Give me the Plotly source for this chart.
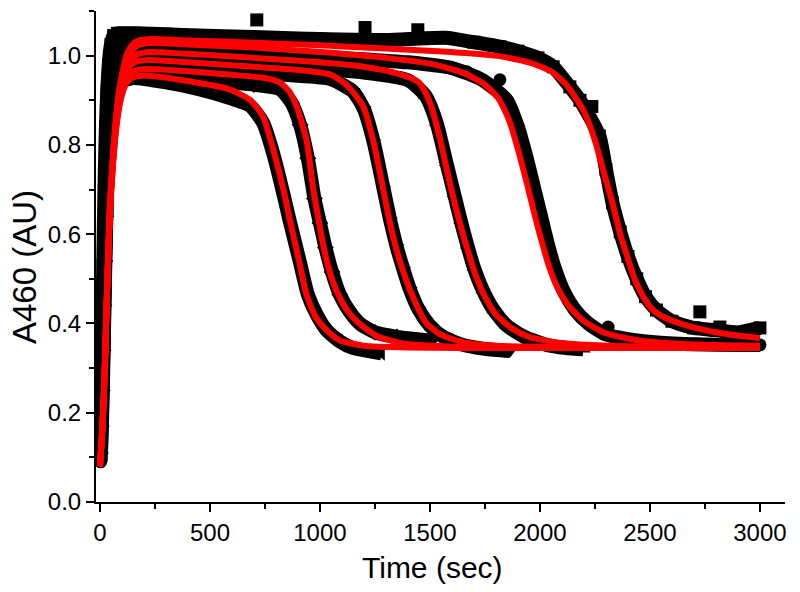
import plotly.graph_objects as go

# ---------------- fitted curves (red) ----------------
fit1_t = [0, 8, 16, 24, 32, 45, 60, 75, 90, 105, 120, 140, 170, 220, 400, 700, 1000, 1300, 1600, 1800, 1950, 2050, 2120, 2200, 2250, 2295, 2335, 2365, 2400, 2430, 2470, 2510, 2560, 2650, 2750, 2880, 3000]
fit1_v = [0.08, 0.14, 0.22, 0.33, 0.47, 0.66, 0.78, 0.87, 0.93, 0.97, 1.00, 1.02, 1.033, 1.037, 1.034, 1.029, 1.023, 1.016, 1.008, 1.000, 0.985, 0.965, 0.935, 0.875, 0.81, 0.73, 0.66, 0.60, 0.545, 0.50, 0.46, 0.432, 0.415, 0.398, 0.385, 0.374, 0.367]

fit2_t = [0, 8, 16, 24, 32, 45, 60, 75, 90, 105, 120, 140, 170, 220, 400, 700, 1000, 1300, 1500, 1650, 1750, 1810, 1860, 1900, 1940, 1970, 2000, 2040, 2080, 2130, 2200, 2300, 2450, 2650, 2850, 3000]
fit2_v = [0.08, 0.14, 0.22, 0.33, 0.47, 0.66, 0.78, 0.87, 0.93, 0.965, 0.99, 1.008, 1.022, 1.028, 1.025, 1.018, 1.008, 0.995, 0.982, 0.962, 0.935, 0.905, 0.855, 0.79, 0.715, 0.655, 0.598, 0.53, 0.48, 0.44, 0.405, 0.378, 0.362, 0.354, 0.351, 0.35]

fit3_t = [0, 8, 16, 24, 32, 45, 60, 75, 90, 105, 120, 140, 170, 220, 400, 700, 1000, 1200, 1350, 1450, 1500, 1545, 1590, 1620, 1650, 1680, 1710, 1750, 1800, 1870, 1950, 2100, 2300, 2600, 3000]
fit3_v = [0.08, 0.14, 0.22, 0.33, 0.47, 0.66, 0.78, 0.865, 0.92, 0.955, 0.978, 0.993, 1.003, 1.008, 1.004, 0.995, 0.985, 0.975, 0.96, 0.94, 0.895, 0.815, 0.715, 0.655, 0.60, 0.55, 0.505, 0.46, 0.42, 0.39, 0.37, 0.356, 0.35, 0.348, 0.347]

fit4_t = [0, 8, 16, 24, 32, 45, 60, 75, 90, 105, 120, 140, 170, 220, 400, 700, 900, 1045, 1120, 1197, 1242, 1288, 1310, 1330, 1348, 1380, 1409, 1450, 1485, 1550, 1650, 1800, 2000, 2400, 3000]
fit4_v = [0.08, 0.14, 0.22, 0.33, 0.47, 0.65, 0.77, 0.855, 0.91, 0.945, 0.965, 0.979, 0.987, 0.99, 0.985, 0.975, 0.968, 0.958, 0.935, 0.886, 0.81, 0.70, 0.645, 0.60, 0.565, 0.515, 0.475, 0.43, 0.40, 0.375, 0.358, 0.35, 0.348, 0.346, 0.346]

fit5_t = [0, 8, 16, 24, 32, 45, 60, 75, 90, 105, 120, 140, 170, 220, 400, 600, 750, 818, 860, 894, 939, 970, 991, 1015, 1045, 1076, 1120, 1167, 1258, 1377, 1600, 2000, 3000]
fit5_v = [0.08, 0.14, 0.22, 0.33, 0.47, 0.65, 0.765, 0.85, 0.90, 0.935, 0.952, 0.962, 0.968, 0.97, 0.965, 0.957, 0.95, 0.94, 0.92, 0.886, 0.81, 0.70, 0.64, 0.575, 0.515, 0.472, 0.432, 0.405, 0.372, 0.355, 0.348, 0.346, 0.345]

fit6_t = [0, 8, 16, 24, 32, 45, 60, 75, 90, 105, 120, 140, 170, 220, 400, 591, 682, 741, 788, 834, 860, 880, 905, 939, 980, 1030, 1091, 1200, 1400, 1800, 3000]
fit6_v = [0.08, 0.14, 0.22, 0.33, 0.47, 0.645, 0.76, 0.84, 0.89, 0.92, 0.938, 0.948, 0.954, 0.955, 0.943, 0.924, 0.901, 0.864, 0.789, 0.70, 0.64, 0.595, 0.54, 0.465, 0.415, 0.385, 0.362, 0.35, 0.346, 0.345, 0.345]

# ---------------- measured data (black) ----------------
d1_t = [0, 3, 6, 9, 12, 15, 18, 22, 27, 33, 40, 50, 62, 80, 110, 160, 300, 450, 600, 800, 1000, 1300, 1568, 1700, 1818, 1900, 1991, 2060, 2136, 2182, 2270, 2300, 2330, 2365, 2400, 2440, 2480, 2530, 2600, 2700, 2800, 2900, 3000]
d1_v = [0.10, 0.16, 0.24, 0.33, 0.43, 0.53, 0.63, 0.74, 0.84, 0.92, 0.98, 1.025, 1.045, 1.05, 1.05, 1.05, 1.048, 1.045, 1.043, 1.04, 1.037, 1.035, 1.04, 1.03, 1.02, 1.01, 0.995, 0.975, 0.93, 0.90, 0.82, 0.745, 0.67, 0.605, 0.55, 0.50, 0.46, 0.43, 0.405, 0.39, 0.385, 0.38, 0.39]
d1_out_t = [713, 1205, 1445, 2236, 2727, 2818]
d1_out_v = [1.08, 1.063, 1.058, 0.886, 0.426, 0.392]

d2_t = [3, 7, 11, 15, 19, 23, 27, 32, 38, 46, 58, 75, 100, 150, 300, 500, 800, 1100, 1400, 1600, 1740, 1850, 1900, 1940, 1980, 2010, 2040, 2070, 2110, 2160, 2220, 2300, 2400, 2550, 2750, 3000]
d2_v = [0.09, 0.14, 0.21, 0.30, 0.40, 0.50, 0.60, 0.71, 0.81, 0.90, 0.96, 1.005, 1.02, 1.022, 1.02, 1.015, 1.005, 0.995, 0.985, 0.972, 0.945, 0.90, 0.84, 0.77, 0.69, 0.63, 0.57, 0.52, 0.47, 0.43, 0.40, 0.375, 0.365, 0.357, 0.353, 0.352]
d2_out_t = [1667, 1818, 2310]
d2_out_v = [0.964, 0.946, 0.392]

d3_t = [1, 5, 9, 13, 17, 21, 25, 30, 36, 44, 56, 72, 95, 150, 300, 600, 900, 1200, 1400, 1480, 1530, 1575, 1610, 1640, 1670, 1700, 1740, 1790, 1850, 1930, 2030, 2120, 2197]
d3_v = [0.10, 0.16, 0.24, 0.33, 0.43, 0.53, 0.63, 0.73, 0.82, 0.89, 0.94, 0.975, 0.99, 0.995, 0.993, 0.985, 0.975, 0.962, 0.945, 0.91, 0.85, 0.76, 0.69, 0.63, 0.575, 0.525, 0.475, 0.43, 0.395, 0.37, 0.352, 0.345, 0.342]

d4_t = [4, 8, 12, 16, 20, 24, 29, 34, 40, 48, 60, 78, 100, 150, 300, 600, 900, 1045, 1150, 1200, 1245, 1290, 1320, 1350, 1380, 1410, 1450, 1500, 1560, 1650, 1750, 1864]
d4_v = [0.12, 0.18, 0.26, 0.35, 0.45, 0.55, 0.64, 0.73, 0.82, 0.88, 0.925, 0.955, 0.97, 0.975, 0.975, 0.965, 0.955, 0.948, 0.92, 0.88, 0.805, 0.70, 0.63, 0.57, 0.52, 0.475, 0.43, 0.395, 0.37, 0.352, 0.343, 0.338]

d5_t = [2, 6, 10, 14, 18, 22, 27, 32, 38, 46, 58, 75, 100, 150, 300, 500, 700, 818, 870, 910, 945, 975, 1000, 1025, 1055, 1090, 1130, 1180, 1250, 1350, 1500]
d5_v = [0.11, 0.17, 0.25, 0.34, 0.44, 0.54, 0.64, 0.73, 0.81, 0.87, 0.91, 0.94, 0.952, 0.955, 0.953, 0.945, 0.935, 0.925, 0.895, 0.845, 0.77, 0.68, 0.625, 0.57, 0.515, 0.465, 0.43, 0.40, 0.38, 0.37, 0.362]

d6_t = [0, 4, 8, 12, 16, 20, 25, 30, 36, 44, 55, 70, 95, 150, 300, 450, 591, 682, 741, 788, 834, 860, 885, 910, 945, 985, 1030, 1090, 1150, 1220, 1280]
d6_v = [0.10, 0.15, 0.22, 0.31, 0.40, 0.50, 0.60, 0.69, 0.77, 0.84, 0.89, 0.92, 0.94, 0.95, 0.94, 0.925, 0.905, 0.888, 0.85, 0.78, 0.69, 0.635, 0.585, 0.535, 0.465, 0.42, 0.385, 0.36, 0.345, 0.338, 0.333]

# axis ticks and titles
x_ticks = [0, 500, 1000, 1500, 2000, 2500, 3000]
y_ticks = [0.0, 0.2, 0.4, 0.6, 0.8, 1.0]
y_tick_text = ["0.0", "0.2", "0.4", "0.6", "0.8", "1.0"]
x_title = "Time (sec)"
y_title = "A460 (AU)"

data_sets = [
    (d1_t, d1_v, "square"),
    (d2_t, d2_v, "circle"),
    (d3_t, d3_v, "triangle-up"),
    (d4_t, d4_v, "triangle-down"),
    (d5_t, d5_v, "diamond"),
    (d6_t, d6_v, "triangle-left"),
]
outlier_sets = [
    (d1_out_t, d1_out_v, "square"),
    (d2_out_t, d2_out_v, "circle"),
]
fit_sets = [
    (fit1_t, fit1_v), (fit2_t, fit2_v), (fit3_t, fit3_v),
    (fit4_t, fit4_v), (fit5_t, fit5_v), (fit6_t, fit6_v),
]

fig = go.Figure()
for t, v, sym in data_sets:
    fig.add_trace(go.Scatter(
        x=t, y=v, mode="lines+markers",
        line=dict(color="black", width=14, shape="spline", smoothing=0.6),
        marker=dict(symbol=sym, size=13, color="black"),
        showlegend=False, hoverinfo="skip"))
for t, v, sym in outlier_sets:
    fig.add_trace(go.Scatter(
        x=t, y=v, mode="markers",
        marker=dict(symbol=sym, size=13, color="black"),
        showlegend=False, hoverinfo="skip"))
for t, v in fit_sets:
    fig.add_trace(go.Scatter(
        x=t, y=v, mode="lines",
        line=dict(color="#ff0000", width=6, shape="spline", smoothing=0.6),
        showlegend=False, hoverinfo="skip"))

FONT = "Liberation Sans, Arial, sans-serif"
fig.update_layout(
    width=800, height=592,
    margin=dict(l=96, r=15, t=11, b=90),
    paper_bgcolor="white", plot_bgcolor="white",
    font=dict(family=FONT, color="black"),
    xaxis=dict(
        range=[-18, 3114], tickvals=x_ticks, automargin=False,
        showline=True, linecolor="black", linewidth=2, mirror=False,
        ticks="outside", ticklen=8, tickwidth=2, tickcolor="black",
        minor=dict(dtick=250, tick0=0, ticks="outside", ticklen=5, tickwidth=2, tickcolor="black"),
        showgrid=False, zeroline=False,
        tickfont=dict(size=24, family=FONT),
    ),
    yaxis=dict(
        range=[0, 1.10], tickvals=y_ticks, ticktext=y_tick_text, automargin=False,
        showline=True, linecolor="black", linewidth=2, mirror=False,
        ticks="outside", ticklen=8, tickwidth=2, tickcolor="black",
        minor=dict(dtick=0.1, tick0=0, ticks="outside", ticklen=5, tickwidth=2, tickcolor="black"),
        showgrid=False, zeroline=False,
        tickfont=dict(size=24, family=FONT),
    ),
    annotations=[
        dict(text=x_title, xref="paper", yref="paper", x=0.4877, y=-0.1344,
             xanchor="center", yanchor="middle", showarrow=False,
             font=dict(size=30, family=FONT, color="black")),
        dict(text=y_title, xref="paper", yref="paper", x=-0.1045, y=0.4786,
             xanchor="center", yanchor="middle", showarrow=False, textangle=-90,
             font=dict(size=33, family=FONT, color="black")),
    ],
)
fig.write_html("out.html",
               config={"displayModeBar": False, "staticPlot": True},
               post_script="document.body.style.margin='0px';document.body.style.overflow='hidden';")
